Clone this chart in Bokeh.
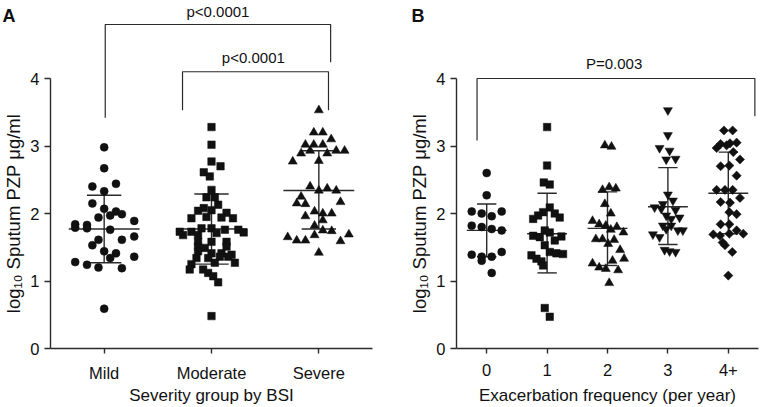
import numpy as np
from bokeh.plotting import figure
from bokeh.layouts import row
from bokeh.models import FixedTicker, Label
from bokeh.core.properties import value
from bokeh.embed import file_html
from bokeh.resources import INLINE

# ---------------- data: panel A (severity group by BSI) ----------------
severity_labels = ["Mild", "Moderate", "Severe"]

mild_values = [2.98, 2.67, 2.40, 2.44, 2.33, 2.15, 2.07, 2.03, 1.99, 1.97, 1.94, 1.89,
               1.84, 1.79, 1.83, 1.78, 1.76, 1.66, 1.61, 1.61, 1.53, 1.44, 1.41, 1.34,
               1.36, 1.28, 1.24, 1.20, 1.19, 0.59]
mild_jitter = [0, 0, -0.11, 0.11, 0, -0.11, 0, 0.11, 0.165, 0.056, -0.053, 0.28,
               -0.27, -0.27, -0.16, -0.16, 0.056, 0.28, 0.165, -0.053, -0.11, 0, 0.11, 0.056,
               0.28, -0.27, -0.16, -0.053, 0.165, 0]

moderate_values = [3.28, 3.02, 2.77, 2.70, 2.61, 2.55, 2.35, 2.24, 2.24, 2.13, 2.08, 2.04,
                   2.05, 2.01, 1.93, 1.95, 1.94, 1.93, 1.73, 1.73, 1.78, 1.78, 1.76, 1.76,
                   1.72, 1.68, 1.68, 1.71, 1.58, 1.58, 1.58, 1.51, 1.49, 1.51, 1.44, 1.41,
                   1.41, 1.39, 1.34, 1.34, 1.36, 1.36, 1.27, 1.25, 1.27, 1.17, 1.17, 1.12,
                   1.07, 0.98, 0.48]
moderate_jitter = [0, 0, 0, 0.084, -0.072, -0.016, 0, -0.047, 0.031, 0.062, -0.072, -0.125,
                   0, 0.14, -0.187, -0.047, 0.093, 0.20, -0.296, -0.187, -0.093, 0, 0.125, 0.25,
                   0.30, -0.265, -0.125, 0.047, -0.125, 0, 0.14, -0.125, -0.062, 0.14, -0.125, 0,
                   0.093, 0.187, -0.14, -0.031, 0.078, 0.156, 0.218, -0.187, 0.031, -0.203, -0.078, -0.031,
                   0.016, 0.062, 0]

severe_values = [3.53, 3.20, 3.20, 3.10, 3.02, 3.02, 3.02, 2.89, 2.93, 2.89, 2.93, 2.93,
                 2.78, 2.77, 2.40, 2.34, 2.37, 2.34, 2.25, 2.15, 2.14, 2.17, 2.03, 2.00,
                 2.00, 1.96, 1.90, 1.82, 1.75, 1.74, 1.65, 1.60, 1.60, 1.68, 1.69, 1.59, 1.42]
severe_jitter = [0, -0.047, 0.037, 0.115, -0.125, -0.047, 0.037, -0.165, -0.081, 0.078, 0.162, 0.24,
                 0, -0.243, -0.081, 0, 0.078, 0.162, -0.165, -0.206, -0.125, 0.202, -0.04, 0.037,
                 0.12, -0.125, 0.037, -0.04, 0.037, 0.12, -0.29, -0.206, -0.125, -0.04, 0.28, 0.202, 0]

severity_mean = [1.77, 1.77, 2.34]
severity_sd_upper = [2.27, 2.29, 2.93]
severity_sd_lower = [1.27, 1.25, 1.77]
severity_p_values = ["p<0.0001", "p<0.0001"]

# ---------------- data: panel B (exacerbation frequency) ----------------
exac_labels = ["0", "1", "2", "3", "4+"]

exac0_values = [2.60, 2.27, 2.03, 2.00, 1.96, 2.03, 1.82, 1.80, 1.77, 1.75, 1.39, 1.36,
                1.36, 1.43, 1.30, 1.12]
exac0_jitter = [0, 0, -0.248, -0.083, 0.083, 0.248, -0.248, -0.083, 0.083, 0.248, -0.248, -0.083,
                0.083, 0.248, -0.083, 0.083]

exac1_values = [3.28, 2.71, 2.46, 2.43, 2.09, 2.02, 1.97, 2.00, 1.92, 1.94, 1.75, 1.72,
                1.67, 1.65, 1.66, 1.53, 1.60, 1.43, 1.41, 1.40, 1.38, 1.33, 1.29, 1.23,
                0.60, 0.47]
exac1_jitter = [0, 0, -0.055, 0.044, 0.044, -0.066, -0.149, 0.127, -0.231, 0.209, -0.039, 0.044,
                -0.231, -0.121, 0.237, -0.039, 0.127, 0.044, 0.154, 0.264, -0.259, -0.176, -0.094, -0.066,
                -0.039, 0.044]

exac2_values = [3.01, 2.99, 2.35, 2.39, 2.37, 2.14, 2.00, 1.89, 1.84, 1.82, 1.80, 1.72,
                1.76, 1.62, 1.62, 1.61, 1.55, 1.46, 1.33, 1.30, 1.26, 1.20, 1.18, 1.16, 0.97]
exac2_jitter = [-0.044, 0.066, -0.083, 0.028, 0.138, -0.044, 0.055, -0.248, -0.138, -0.028, 0.154, 0.264,
                0.055, -0.193, -0.083, 0.110, 0.011, 0.209, 0.275, 0.083, -0.248, -0.138, -0.028, 0.176, 0.028]

exac3_values = [3.53, 3.16, 2.97, 2.93, 2.80, 2.81, 2.28, 2.14, 2.19, 2.09, 2.07, 2.05,
                1.97, 1.92, 1.94, 1.82, 1.82, 1.77, 1.75, 1.75, 1.69, 1.65, 1.46, 1.44, 1.43]
exac3_jitter = [0, 0, -0.138, 0.028, -0.028, 0.127, 0, -0.083, 0.083, -0.220, -0.110, 0.127,
                -0.028, 0.055, 0.193, -0.083, 0.055, -0.028, 0.165, 0.248, -0.248, -0.138, -0.055, 0.028, 0.127]

exac4_values = [3.23, 3.23, 2.97, 3.03, 3.01, 3.04, 3.05, 2.91, 2.80, 2.70, 2.71, 2.56,
                2.35, 2.35, 2.35, 2.23, 2.17, 2.16, 2.02, 1.99, 1.84, 1.84, 1.69, 1.67,
                1.70, 1.75, 1.70, 1.57, 1.53, 1.43, 1.08]
exac4_jitter = [-0.072, 0.072, -0.193, -0.127, -0.028, 0.028, 0.138, 0.083, 0.193, -0.127, 0.017, 0.138,
                -0.193, -0.055, 0.072, 0.193, -0.127, 0.028, 0.017, 0.138, -0.127, 0.017, -0.248, -0.138,
                0.017, 0.138, 0.248, -0.094, -0.055, 0.066, 0]

exac_mean = [1.75, 1.70, 1.78, 2.10, 2.30]
exac_sd_upper = [2.14, 2.30, 2.32, 2.68, 2.91]
exac_sd_lower = [1.36, 1.12, 1.23, 1.54, 1.70]
exac_p_value = "P=0.003"

# ---------------- styling ----------------
FONT = "Liberation Sans"
INK = "#111111"
LINE = "#2a2a2a"
YLABEL = "log\u2081\u2080 Sputum PZP \u03bcg/ml"

CANVAS_H = 405
ZERO_PX = 348          # canvas pixel row of y = 0 (from top)
Y_PPU = 67.5           # pixels per y unit


def make_fig(width, axis_px, right_pad, n, labels, xlabel, panel_letter, letter_px, xlabel_standoff):
    # frame covers the whole canvas; axes are pinned with fixed_location
    x_ppu = (width - axis_px - right_pad) / n
    x_min = -0.5 - axis_px / x_ppu
    x_max = n - 0.5 + right_pad / x_ppu
    y_min = -(CANVAS_H - ZERO_PX) / Y_PPU
    y_max = ZERO_PX / Y_PPU
    p = figure(width=width, height=CANVAS_H, x_range=(x_min, x_max), y_range=(y_min, y_max),
               output_backend="svg", toolbar_location=None, min_border=0)
    p.outline_line_color = None
    p.grid.visible = False
    p.background_fill_color = "white"
    p.border_fill_color = "white"

    xa = p.xaxis[0]
    xa.fixed_location = 0
    xa.bounds = (-0.5, n - 0.5)
    xa.ticker = FixedTicker(ticks=list(range(n)))
    xa.major_label_overrides = {i: lab for i, lab in enumerate(labels)}
    xa.minor_tick_line_color = None
    xa.major_tick_in = 0
    xa.major_tick_out = 5
    xa.axis_line_color = LINE
    xa.axis_line_width = 1.4
    xa.major_tick_line_color = LINE
    xa.major_tick_line_width = 1.4
    xa.major_label_text_font = FONT
    xa.major_label_text_font_size = "16.5px"
    xa.major_label_text_color = INK
    xa.major_label_standoff = 10
    xa.axis_label = xlabel
    xa.axis_label_text_font = FONT
    xa.axis_label_text_font_size = "17px"
    xa.axis_label_text_font_style = "normal"
    xa.axis_label_text_color = INK
    xa.axis_label_standoff = xlabel_standoff

    ya = p.yaxis[0]
    ya.fixed_location = -0.5
    ya.ticker = FixedTicker(ticks=[0, 1, 2, 3, 4])
    ya.bounds = (0, 4)
    ya.minor_tick_line_color = None
    ya.major_tick_in = 0
    ya.major_tick_out = 6
    ya.axis_line_color = LINE
    ya.axis_line_width = 1.4
    ya.major_tick_line_color = LINE
    ya.major_tick_line_width = 1.4
    ya.major_label_text_font = FONT
    ya.major_label_text_font_size = "16.5px"
    ya.major_label_text_color = INK
    ya.major_label_standoff = 5
    ya.axis_label = YLABEL
    ya.axis_label_text_font = FONT
    ya.axis_label_text_font_size = "18.5px"
    ya.axis_label_text_font_style = "normal"
    ya.axis_label_text_color = INK
    ya.axis_label_standoff = 3

    p.add_layout(Label(x=-0.5 - (axis_px - letter_px) / x_ppu, y=(ZERO_PX - 5) / Y_PPU,
                       text=panel_letter, text_font=FONT, text_font_size="18px",
                       text_font_style="bold", text_color=INK,
                       text_align="left", text_baseline="top"))
    return p


def draw_group(p, cat, vals, jit, marker, size, angle=0.0):
    xs = [cat + j for j in jit]
    p.scatter(xs, vals, marker=marker, size=size, angle=angle,
              fill_color=INK, line_color=INK, line_width=0.5)


def draw_errorbars(p, means, upper, lower, mean_half=0.33, cap_half=0.16):
    cats = np.arange(len(means))
    p.segment(x0=cats - mean_half, y0=means, x1=cats + mean_half, y1=means,
              line_color=LINE, line_width=1.4)
    p.segment(x0=cats - cap_half, y0=upper, x1=cats + cap_half, y1=upper,
              line_color=LINE, line_width=1.4)
    p.segment(x0=cats - cap_half, y0=lower, x1=cats + cap_half, y1=lower,
              line_color=LINE, line_width=1.4)
    p.segment(x0=cats, y0=lower, x1=cats, y1=upper, line_color=LINE, line_width=1.4)


def draw_bracket(p, x_left, x_right, y_top, y_left, y_right, label, lx, ly):
    p.multi_line(xs=[[x_left, x_left, x_right, x_right]],
                 ys=[[y_left, y_top, y_top, y_right]],
                 line_color=LINE, line_width=1.2)
    p.text(x=[lx], y=[ly], text=[label], text_font=value(FONT), text_font_size="15px",
           text_color=INK, text_align="center", text_baseline="middle")


# ---------------- panel A ----------------
pA = make_fig(400, 50, 28, 3, severity_labels, "Severity group by BSI", "A", 2, 1)
draw_errorbars(pA, severity_mean, severity_sd_upper, severity_sd_lower)
draw_group(pA, 0, mild_values, mild_jitter, "circle", 8)
draw_group(pA, 1, moderate_values, moderate_jitter, "square", 7.5)
draw_group(pA, 2, severe_values, severe_jitter, "triangle", 9)
draw_bracket(pA, 0.01, 2.11, 4.80, 3.42, 4.24, severity_p_values[0], 1.06, 5.0)
draw_bracket(pA, 0.73, 2.09, 4.10, 3.53, 3.53, severity_p_values[1], 1.39, 4.31)

# ---------------- panel B ----------------
pB = make_fig(362, 56, 4, 5, exac_labels, "Exacerbation frequency (per year)", "B", 11, 7)
draw_errorbars(pB, exac_mean, exac_sd_upper, exac_sd_lower)
draw_group(pB, 0, exac0_values, exac0_jitter, "circle", 8)
draw_group(pB, 1, exac1_values, exac1_jitter, "square", 7.5)
draw_group(pB, 2, exac2_values, exac2_jitter, "triangle", 9)
draw_group(pB, 3, exac3_values, exac3_jitter, "inverted_triangle", 9)
draw_group(pB, 4, exac4_values, exac4_jitter, "square", 6.5, angle=np.pi / 4)
draw_bracket(pB, -0.16, 4.44, 4.0, 3.08, 3.44, exac_p_value, 2.11, 4.22)

layout = row(pA, pB)
open("out.html", "w").write(file_html(layout, INLINE))
